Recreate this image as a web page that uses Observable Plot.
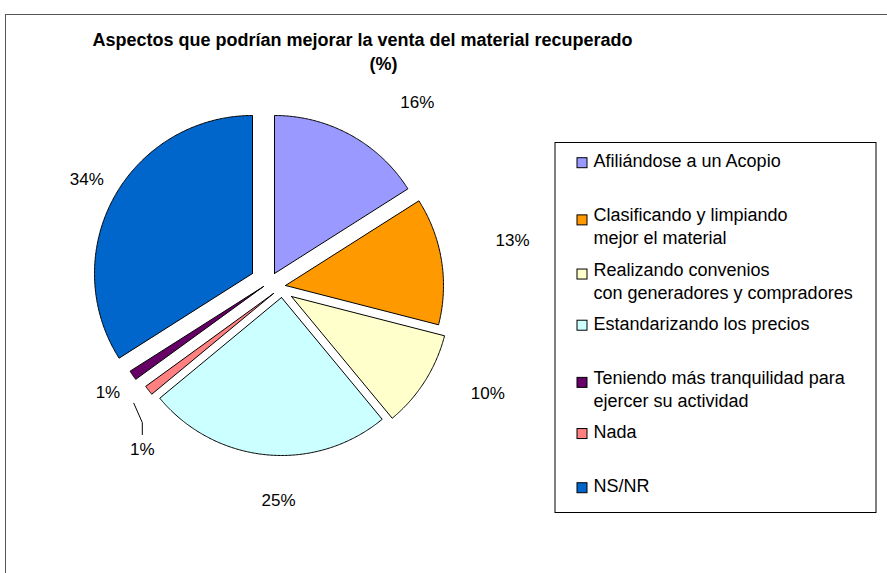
<!DOCTYPE html>
<html>
<head>
<meta charset="utf-8">
<script src="https://cdn.jsdelivr.net/npm/d3@7"></script>
<script src="https://cdn.jsdelivr.net/npm/@observablehq/plot@0.6"></script>
<style>
  html, body { margin: 0; padding: 0; background: #fff; overflow: hidden; }
  #wrap { position: relative; width: 887px; height: 573px; }
  #chart { position: absolute; left: 0; top: 0; }
  #frame { position: absolute; left: 5px; top: 14px; width: 1000px; height: 1000px;
           border-top: 1.5px solid #555; border-left: 1.5px solid #555; pointer-events: none; }
</style>
</head>
<body>
<div id="wrap"><div id="chart"></div><div id="frame"></div></div>
<script>
// ---- DATA ----
const categories = [
  "Afiliándose a un Acopio",
  "Clasificando y limpiando mejor el material",
  "Realizando convenios con generadores y compradores",
  "Estandarizando los precios",
  "Teniendo más tranquilidad para ejercer su actividad",
  "Nada",
  "NS/NR"
];
const legendLines = [
  ["Afiliándose a un Acopio"],
  ["Clasificando y limpiando", "mejor el material"],
  ["Realizando convenios", "con generadores y compradores"],
  ["Estandarizando los precios"],
  ["Teniendo más tranquilidad para", "ejercer su actividad"],
  ["Nada"],
  ["NS/NR"]
];
const values = [16, 13, 10, 25, 1, 1, 34];          // percent
const pieOrder = [0, 1, 2, 3, 5, 4, 6];             // clockwise drawing order from 12 o'clock
const colors = ["#9999FF", "#FF9900", "#FFFFCC", "#CCFFFF", "#660066", "#FF8080", "#0066CC"];
const titleLines = ["Aspectos que podrían mejorar la venta del material recuperado", "(%)"];

// ---- LAYOUT (pixels) ----
const W = 887, H = 573;
const PC = [269, 284], R = 158;
const explode = [[5, -11], [16, 1], [22, 12], [12, 13], [-6, 2], [4, 9], [-17, -11]];
const labelPolar = [[39.0, 235], [79.7, 247], [116.5, 244], [177.6, 216], [236.4, 194], [217.7, 208], [300.0, 211]];
const LEG = {x0: 555, x1: 876, y0: 142.5, y1: 512.5, sx: 577, tx: 593, base0: 166.7, step: 54.17, lh: 23};

// ---- DERIVED ----
const pie = d3.pie().sort(null).value(i => values[i])(pieOrder);
const slicePts = [];
for (const p of pie) {
  const i = p.data;
  const tx = PC[0] + explode[i][0], ty = PC[1] + explode[i][1];
  const pts = [[tx, ty]];
  const n = Math.max(3, Math.ceil((p.endAngle - p.startAngle) / (Math.PI / 360)));
  for (let k = 0; k <= n; k++) {
    const a = p.startAngle + (p.endAngle - p.startAngle) * k / n;
    pts.push([tx + R * Math.sin(a), ty - R * Math.cos(a)]);
  }
  pts.push([tx, ty]);
  for (const [x, y] of pts) slicePts.push({cat: categories[i], x, y});
}

const labelData = values.map((v, i) => {
  const a = labelPolar[i][0] * Math.PI / 180, r = labelPolar[i][1];
  return {text: v + "%", x: PC[0] + r * Math.sin(a), y: PC[1] - r * Math.cos(a) + 6};
});
const nada = labelData[5];
const leader = [
  {x: nada.x, y: nada.y - 20.5},
  {x: nada.x, y: nada.y - 32.5},
  {x: nada.x - 8.5, y: nada.y - 51.8}
];

const legendRows = categories.map((c, i) => {
  const base = LEG.base0 + i * LEG.step;
  const adj = legendLines[i].length > 1 ? 3 : 0;
  return {cat: c, base, sy1: base - 9 + adj, sy2: base + 1 + adj, sx1: LEG.sx, sx2: LEG.sx + 10};
});
const legendText = [];
legendLines.forEach((lines, i) => lines.forEach((t, j) =>
  legendText.push({text: t, x: LEG.tx, y: legendRows[i].base + j * LEG.lh})));

const titleData = [
  {text: titleLines[0], x: 362, y: 45.5},
  {text: titleLines[1], x: 383, y: 69}
];

const chart = Plot.plot({
  width: W, height: H,
  margin: 0,
  x: {domain: [0, W], range: [0, W], axis: null},
  y: {domain: [0, H], range: [0, H], axis: null},
  color: {domain: categories, range: colors, legend: false},
  style: {fontFamily: "'Liberation Sans', Arial, sans-serif", background: "transparent", overflow: "visible"},
  marks: [
    Plot.line(slicePts, {x: "x", y: "y", z: "cat", fill: "cat", stroke: "black", strokeWidth: 1, strokeLinejoin: "miter", curve: "linear"}),
    Plot.text(labelData, {x: "x", y: "y", text: "text", fontSize: 17, textAnchor: "middle", lineAnchor: "bottom", fill: "black"}),
    Plot.line(leader, {x: "x", y: "y", stroke: "black", strokeWidth: 1}),
    Plot.text(titleData, {x: "x", y: "y", text: "text", fontSize: 18, fontWeight: "bold", textAnchor: "middle", lineAnchor: "bottom", fill: "black"}),
    Plot.rect([LEG], {x1: "x0", x2: "x1", y1: "y0", y2: "y1", fill: "white", stroke: "black", strokeWidth: 1}),
    Plot.rect(legendRows, {x1: "sx1", x2: "sx2", y1: "sy1", y2: "sy2", fill: "cat", stroke: "black", strokeWidth: 1}),
    Plot.text(legendText, {x: "x", y: "y", text: "text", fontSize: 18, textAnchor: "start", lineAnchor: "bottom", fill: "black"})
  ]
});
document.getElementById("chart").appendChild(chart);
</script>
</body>
</html>
